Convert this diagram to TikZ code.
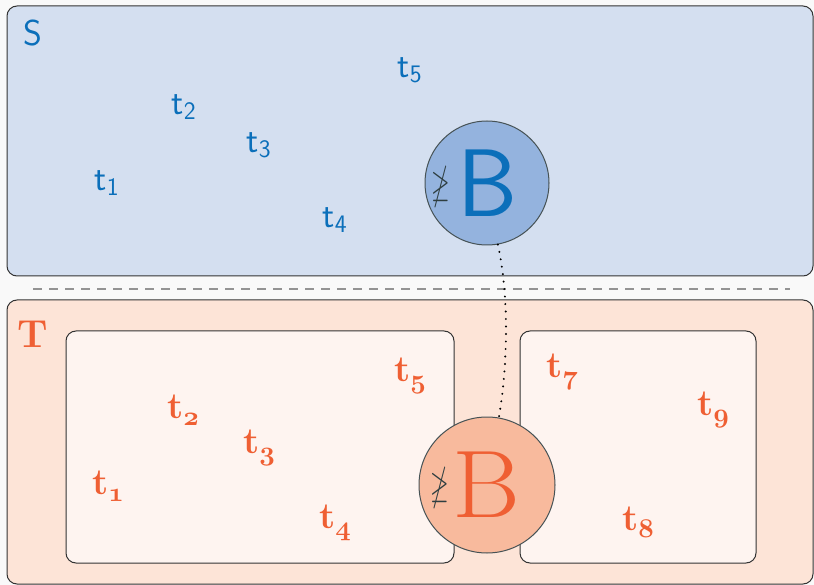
\documentclass[tikz,border=0pt]{standalone}
\usepackage{fix-cm}
\usepackage{amssymb}
\usepackage{graphicx}
\definecolor{bgc}{HTML}{F9F9F9}
\definecolor{sfill}{HTML}{D4DFF0}
\definecolor{bluet}{HTML}{0B6FBA}
\definecolor{ctfill}{HTML}{94B3DE}
\definecolor{tfill}{HTML}{FDE4D7}
\definecolor{infill}{HTML}{FEF4F0}
\definecolor{oranget}{HTML}{EF5F33}
\definecolor{cbfill}{HTML}{F8BA9D}
\definecolor{edgec}{HTML}{333333}
\definecolor{cedge}{HTML}{465255}
\definecolor{symc}{HTML}{2E3E40}
\tikzset{
  frame/.style={draw=edgec, line width=1pt, rounded corners=10pt},
  slabel/.style={text=bluet, font=\sffamily\fontsize{36}{40}\selectfont, inner sep=0pt},
  tlabel/.style={text=oranget, font=\bfseries\fontsize{37}{40}\selectfont, inner sep=0pt},
  bigcirc/.style={circle, draw=cedge, line width=1pt, inner sep=0pt},
  notsym/.style={text=symc, inner sep=0pt}
}
\newcommand{\tb}[1]{t\raisebox{-7pt}{\fontsize{27}{30}\usefont{OML}{cmm}{b}{it}#1}}
\begin{document}
\begin{tikzpicture}[x=1pt,y=-1pt]
\fill[bgc] (0,0) rectangle (814,585);
\useasboundingbox (0,0) rectangle (814,585);
% S region
\draw[frame, fill=sfill] (7,6) rectangle (813,276);
\node[slabel] (S) at (33,33) {S};
\node[slabel] (s1) at (107,183) {t\textsubscript{1}};
\node[slabel] (s2) at (184,107) {t\textsubscript{2}};
\node[slabel] (s3) at (259,145) {t\textsubscript{3}};
\node[slabel] (s4) at (335,220) {t\textsubscript{4}};
\node[slabel] (s5) at (410,70) {t\textsubscript{5}};
% separator
\draw[gray!85, line width=2pt, dash pattern=on 9pt off 7pt] (33,289) -- (790,289);
% T region
\draw[frame, fill=tfill] (7,300) rectangle (813,584);
\node[text=oranget, font=\bfseries\fontsize{39}{44}\selectfont, inner sep=0pt] (T) at (33,334) {T};
\draw[frame, fill=infill] (66,331) rectangle (454,563);
\draw[frame, fill=infill] (520,331) rectangle (756,563);
\node[tlabel] (u1) at (108,486) {\tb{1}};
\node[tlabel] (u2) at (183,410) {\tb{2}};
\node[tlabel] (u3) at (259,448) {\tb{3}};
\node[tlabel] (u4) at (335,523) {\tb{4}};
\node[tlabel] (u5) at (410,376) {\tb{5}};
\node[tlabel] (u7) at (562,372) {\tb{7}};
\node[tlabel] (u9) at (713,410) {\tb{9}};
\node[tlabel] (u8) at (638,522) {\tb{8}};
% circles
\node[bigcirc, fill=ctfill, minimum size=124pt] (ct) at (487,183) {};
\node[bigcirc, fill=none, draw=none, minimum size=136pt] (cbpos) at (487,485) {};
\draw[line width=2.2pt, line cap=round, dash pattern=on 0pt off 7.5pt] (ct.-80) .. controls (510,300) and (507,370) .. (cbpos.80);
\node[bigcirc, fill=cbfill, minimum size=136pt] (cb) at (487,485) {};
\node[text=bluet, font=\sffamily\fontsize{96}{100}\selectfont, inner sep=0pt] (Bt) at (488,183) {B};
\node[notsym] (nt) at (441,187) {\scalebox{2.4}[3.8]{$\ngeq$}};
\node[text=oranget, font=\fontsize{96}{100}\selectfont, inner sep=0pt] (Bb) at (486,485) {\scalebox{1.08}[1]{B}};
\node[notsym] (nb) at (440,488) {\scalebox{2.4}[3.8]{$\ngeq$}};
\end{tikzpicture}
\end{document}
